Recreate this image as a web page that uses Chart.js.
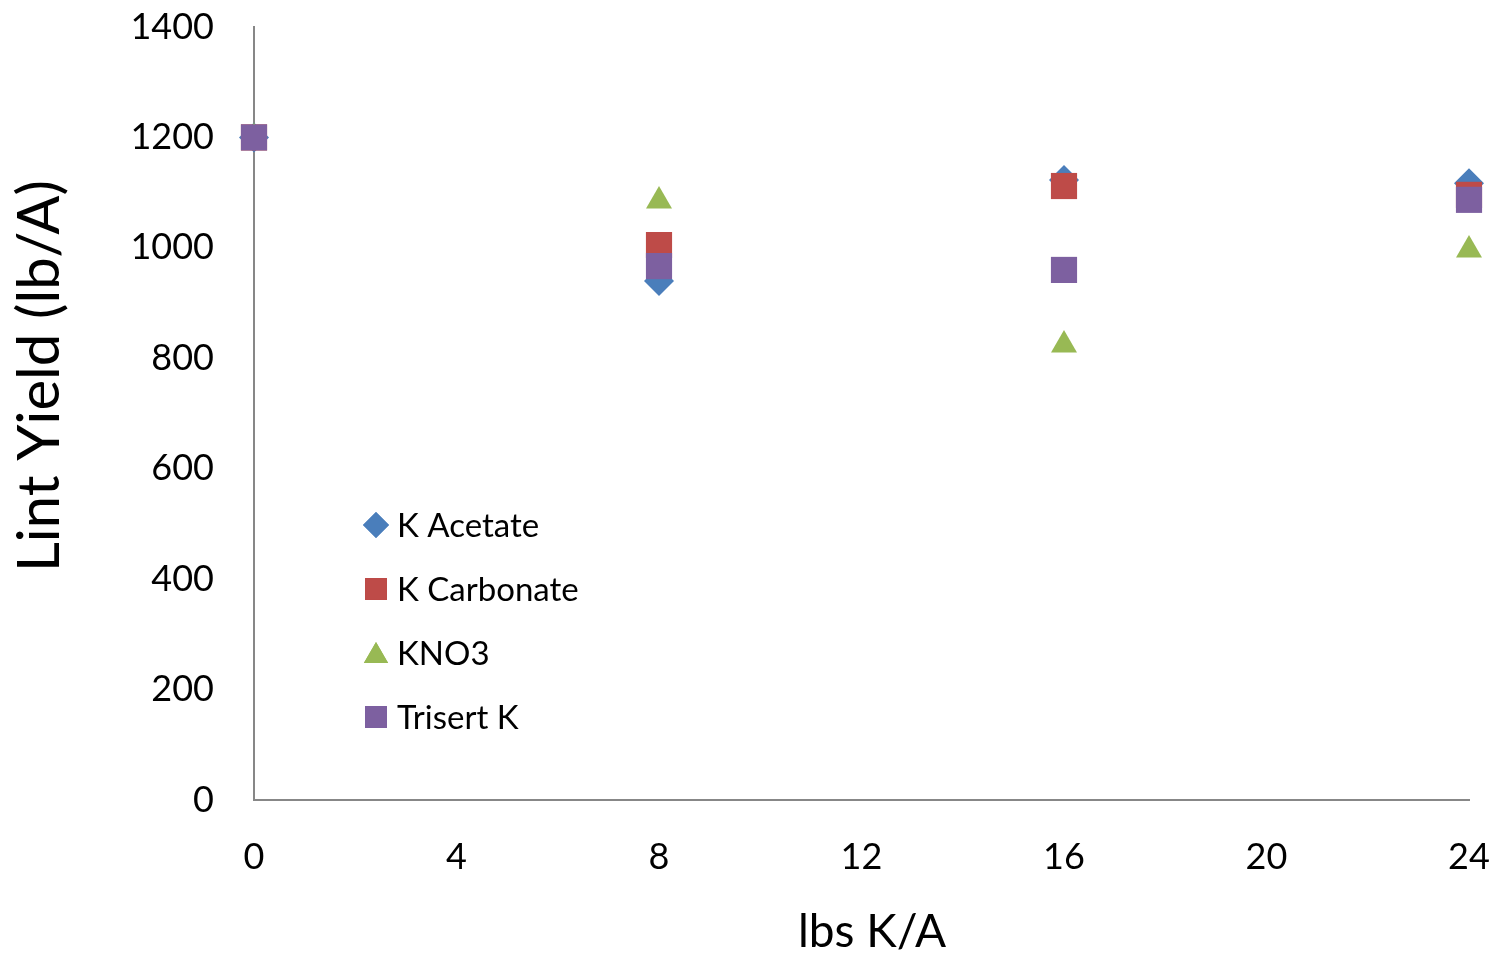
<!DOCTYPE html>
<html>
<head>
<meta charset="utf-8">
<script src="https://cdn.jsdelivr.net/npm/chart.js@4/dist/chart.umd.min.js"></script>
<style>
  html, body { margin: 0; padding: 0; background: #fff; }
  #wrap { width: 1496px; height: 957px; position: relative; }
</style>
</head>
<body>
<div id="wrap"><canvas id="c" width="1496" height="957"></canvas></div>
<script>
// K rate applied (lbs K/A)
const rates = [0, 8, 16, 24];
// Lint yield (lb/A) for each K source
const kAcetate   = [1200, 940, 1123, 1117];
const kCarbonate = [1200, 1005, 1112, 1096];
const kno3       = [1200, 1085, 824, 996];
const trisertK   = [1200, 967, 960, 1087];

const seriesNames = ['K Acetate', 'K Carbonate', 'KNO3', 'Trisert K'];
const xTicks = [0, 4, 8, 12, 16, 20, 24];
const yTicks = [0, 200, 400, 600, 800, 1000, 1200, 1400];

const FONT = 'Lato, "Open Sans", sans-serif';

function pts(vals) { return rates.map((x, i) => ({ x: x, y: vals[i] })); }

const styles = [
  { color: '#4A7EBB', shape: 'rectRot',  r: 15, legendR: 13 },
  { color: '#BE4B48', shape: 'rect',     r: 18.5, legendR: 15.5 },
  { color: '#98B954', shape: 'triangle', r: 15, legendR: 14 },
  { color: '#7D60A0', shape: 'rect',     r: 18.5, legendR: 15.5 }
];
const values = [kAcetate, kCarbonate, kno3, trisertK];

const datasets = values.map((v, i) => ({
  label: seriesNames[i],
  data: pts(v),
  pointStyle: styles[i].shape,
  pointRadius: styles[i].r,
  pointHoverRadius: styles[i].r,
  backgroundColor: styles[i].color,
  borderColor: styles[i].color,
  borderWidth: 0,
  showLine: false,
  clip: false,
  order: values.length - i   // later series sit on top
}));

// In-plot legend drawn with the same point styles
const insideLegend = {
  id: 'insideLegend',
  afterDatasetsDraw(chart) {
    const ctx = chart.ctx;
    ctx.save();
    ctx.font = '33px ' + FONT;
    ctx.textBaseline = 'middle';
    chart.data.datasets.forEach((ds, i) => {
      const y = 525 + i * 64;
      const st = styles[i];
      ctx.fillStyle = st.color;
      Chart.helpers.drawPoint(ctx, { pointStyle: st.shape, radius: st.legendR, borderWidth: 0 }, 376, st.shape === 'triangle' ? y + 3 : y);
      ctx.fill();
      ctx.fillStyle = '#000';
      ctx.fillText(ds.label, 397, y + 1);
    });
    ctx.restore();
  }
};

// Axis titles
const axisTitles = {
  id: 'axisTitles',
  afterDraw(chart) {
    const ctx = chart.ctx;
    ctx.save();
    ctx.fillStyle = '#000';
    ctx.textAlign = 'center';
    ctx.textBaseline = 'middle';
    ctx.font = '46px ' + FONT;
    ctx.fillText('lbs K/A', 872, 932);
    ctx.translate(40, 376);
    ctx.rotate(-Math.PI / 2);
    ctx.font = '58px ' + FONT;
    ctx.fillText('Lint Yield (lb/A)', 0, 0);
    ctx.restore();
  }
};

function noScalePadding(scale) {
  scale.paddingTop = 0; scale.paddingBottom = 0;
  scale.paddingLeft = 0; scale.paddingRight = 0;
}

new Chart(document.getElementById('c'), {
  type: 'scatter',
  data: { datasets: datasets },
  options: {
    responsive: false,
    animation: false,
    layout: { padding: { left: 0, right: 27, top: 27, bottom: 0 } },
    plugins: {
      legend: { display: false },
      tooltip: { enabled: false },
      title: { display: false }
    },
    scales: {
      x: {
        type: 'linear',
        min: 0, max: 24,
        afterBuildTicks(scale) { scale.ticks = xTicks.map(v => ({ value: v })); },
        afterFit(scale) { scale.height = 157; noScalePadding(scale); },
        grid: { display: false, drawTicks: false },
        border: { display: true, color: '#878787', width: 2 },
        ticks: { color: '#000', font: { family: FONT, size: 36 }, padding: 36, maxRotation: 0,
                 callback: v => String(v) }
      },
      y: {
        type: 'linear',
        min: 0, max: 1400,
        afterBuildTicks(scale) { scale.ticks = yTicks.map(v => ({ value: v })); },
        afterFit(scale) { scale.width = 254; noScalePadding(scale); },
        grid: { display: false, drawTicks: false },
        border: { display: true, color: '#878787', width: 2 },
        ticks: { color: '#000', font: { family: FONT, size: 36 }, padding: 40,
                 callback: v => String(v) }
      }
    }
  },
  plugins: [insideLegend, axisTitles]
});
</script>
</body>
</html>
